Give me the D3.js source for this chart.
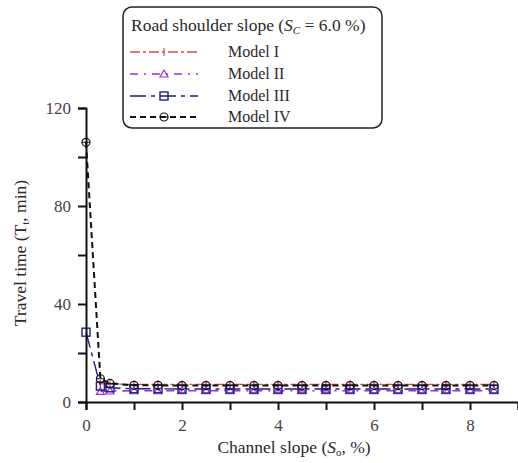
<!DOCTYPE html>
<html><head><meta charset="utf-8">
<script src="https://cdn.jsdelivr.net/npm/d3@7"></script>
<style>body{margin:0;background:#fff}svg{display:block}text{font-family:"Liberation Serif","Times New Roman",serif}</style>
</head><body><div id="c"></div>
<script>
const slopes = [0, 0.3, 0.5, 1, 1.5, 2, 2.5, 3, 3.5, 4, 4.5, 5, 5.5, 6, 6.5, 7, 7.5, 8, 8.5];
const modelI   = [null, 7.5, 7.3, 7.2, 7.2, 7.2, 7.2, 7.2, 7.2, 7.2, 7.2, 7.2, 7.2, 7.2, 7.2, 7.2, 7.2, 7.2, 7.2];
const modelII  = [null, 4.3, 4.5, 4.6, 4.6, 4.6, 4.6, 4.6, 4.6, 4.6, 4.6, 4.6, 4.6, 4.6, 4.6, 4.6, 4.6, 4.6, 4.6];
const modelIII = [28.5, 6.5, 5.8, 5.4, 5.4, 5.3, 5.3, 5.3, 5.3, 5.3, 5.3, 5.3, 5.3, 5.3, 5.3, 5.3, 5.3, 5.3, 5.3];
const modelIV  = [106, 9.5, 7.6, 6.8, 6.8, 6.7, 6.7, 6.7, 6.7, 6.7, 6.7, 6.7, 6.7, 6.7, 6.7, 6.7, 6.7, 6.7, 6.7];
const seriesNames = ["Model I", "Model II", "Model III", "Model IV"];
const xTicks = [0, 2, 4, 6, 8];
const yTicks = [0, 40, 80, 120];

const W = 518, H = 463;
const svg = d3.select("#c").append("svg").attr("width", W).attr("height", H);
const x = d3.scaleLinear().domain([0, 9]).range([86, 518]);
const y = d3.scaleLinear().domain([0, 120]).range([402, 108]);
const TXT = "#2a2a2a";

const styles = [
  {color:"#e8453c", dash:"10,3,3,3", width:1.3, marker:"plus"},
  {color:"#9b2fd1", dash:"8,6,2,6", width:1.6, marker:"tri"},
  {color:"#1c1c8a", dash:"16,5,4,5", width:1.4, marker:"square"},
  {color:"#111", dash:"6,4", width:2, marker:"circle"}
];
const data = [modelI, modelII, modelIII, modelIV];

function drawMarker(g, type, cx, cy, color) {
  if (type === "plus") {
    g.append("line").attr("x1", cx).attr("x2", cx).attr("y1", cy-4).attr("y2", cy+4).attr("stroke", color).attr("stroke-width", 1.2);
  } else if (type === "tri") {
    g.append("path").attr("d", `M${cx},${cy-4}L${cx+4},${cy+3}L${cx-4},${cy+3}Z`).attr("fill", "none").attr("stroke", color).attr("stroke-width", 1.2);
  } else if (type === "square") {
    g.append("rect").attr("x", cx-4).attr("y", cy-4).attr("width", 8).attr("height", 8).attr("fill", "none").attr("stroke", color).attr("stroke-width", 1.4);
  } else {
    g.append("circle").attr("cx", cx).attr("cy", cy).attr("r", 4).attr("fill", "none").attr("stroke", color).attr("stroke-width", 1.2);
    g.append("line").attr("x1", cx-4).attr("x2", cx+4).attr("y1", cy).attr("y2", cy).attr("stroke", color).attr("stroke-width", 1);
  }
}

// series
const plot = svg.append("g");
data.forEach((vals, i) => {
  const st = styles[i];
  const pts = slopes.map((s, j) => [s, vals[j]]).filter(d => d[1] != null);
  const line = d3.line().x(d => x(d[0])).y(d => y(d[1]));
  plot.append("path").attr("d", line(pts)).attr("fill", "none").attr("stroke", st.color)
    .attr("stroke-width", st.width).attr("stroke-dasharray", st.dash);
  const mg = plot.append("g");
  pts.forEach(d => drawMarker(mg, st.marker, x(d[0]), y(d[1]), st.color));
});

// axes
const xAxis = svg.append("g").attr("transform", "translate(0,402)")
  .call(d3.axisBottom(x).tickValues(d3.range(0, 10, 1)).tickSize(8).tickFormat(d => xTicks.includes(d) ? d : ""));
const yAxis = svg.append("g").attr("transform", "translate(86,0)")
  .call(d3.axisLeft(y).tickValues(d3.range(0, 121, 20)).tickSize(8).tickFormat(d => yTicks.includes(d) ? d : ""));
[xAxis, yAxis].forEach(a => {
  a.select(".domain").attr("stroke", "#111").attr("stroke-width", 2);
  a.selectAll(".tick line").attr("stroke", "#111").attr("stroke-width", 2);
  a.selectAll("text").style("font-family", "Liberation Serif").style("font-size", "17px").attr("fill", "#444");
});
xAxis.selectAll("text").attr("dy", "1.05em");
yAxis.selectAll("text").attr("x", -15);

// axis titles
const xt = svg.append("text").attr("x", 294).attr("y", 453).attr("text-anchor", "middle").attr("fill", TXT).style("font-size", "17.5px");
xt.append("tspan").text("Channel slope (");
xt.append("tspan").attr("font-style", "italic").text("S");
xt.append("tspan").attr("font-size", "11px").attr("dy", 3).text("o");
xt.append("tspan").attr("dy", -3).text(", %)");

const yt = svg.append("text").attr("transform", "translate(26,253) rotate(-90)").attr("text-anchor", "middle").attr("fill", TXT).style("font-size", "17.5px");
yt.append("tspan").text("Travel time (T");
yt.append("tspan").attr("font-size", "11px").attr("dy", 3).text("t");
yt.append("tspan").attr("dy", -3).text(", min)");

// legend
const lg = svg.append("g");
lg.append("rect").attr("x", 123).attr("y", 7).attr("width", 259).attr("height", 121).attr("rx", 9)
  .attr("fill", "#fff").attr("stroke", "#222").attr("stroke-width", 1.5);
const lt = lg.append("text").attr("x", 131).attr("y", 31).attr("fill", TXT).style("font-size", "17.5px");
lt.append("tspan").text("Road shoulder slope (");
lt.append("tspan").attr("font-style", "italic").text("S");
lt.append("tspan").attr("font-style", "italic").attr("font-size", "11px").attr("dy", 3).text("C");
lt.append("tspan").attr("dy", -3).text(" = 6.0 %)");
const rowY = [52, 74, 96, 117];
seriesNames.forEach((n, i) => {
  const st = styles[i];
  lg.append("line").attr("x1", 130).attr("x2", 198).attr("y1", rowY[i]).attr("y2", rowY[i])
    .attr("stroke", st.color).attr("stroke-width", st.width).attr("stroke-dasharray", st.dash);
  drawMarker(lg, st.marker, 164, rowY[i], st.color);
  lg.append("text").attr("x", 228).attr("y", rowY[i] + 5).attr("fill", TXT).style("font-size", "16px").text(n);
});
</script></body></html>
